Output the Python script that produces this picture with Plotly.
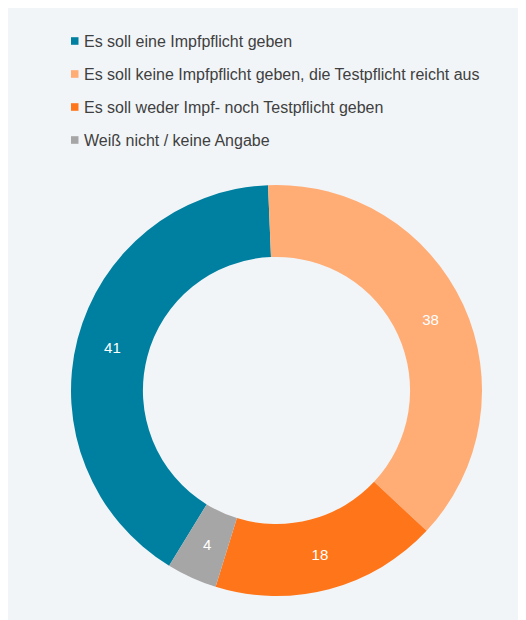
import math
import plotly.graph_objects as go

labels = [
    "Es soll eine Impfpflicht geben",
    "Es soll keine Impfpflicht geben, die Testpflicht reicht aus",
    "Es soll weder Impf- noch Testpflicht geben",
    "Weiß nicht / keine Angabe",
]
values = [41, 38, 18, 4]
colors = ["#0080A0", "#FFAC75", "#FF761A", "#A6A6A6"]

W, H = 526, 620
BG = "#F2F5F8"
FONT = "Liberation Sans, Arial, sans-serif"
OFF = 8  # page body margin

# pie geometry (figure pixels)
cx, cy, R = 276.5 - OFF, 390.5 - OFF, 205.5
HOLE = 0.65
ROT = -148.5

# small slices get their value label placed on the ring middle (like the reference)
small = [v / sum(values) < 0.08 for v in values]
textpos = ["none" if s else "inside" for s in small]

fig = go.Figure()
fig.add_trace(go.Pie(
    labels=labels,
    values=values,
    hole=HOLE,
    sort=False,
    direction="clockwise",
    rotation=ROT,
    marker=dict(colors=colors, line=dict(width=0)),
    texttemplate="%{value}",
    textposition=textpos,
    insidetextorientation="horizontal",
    textfont=dict(color="white", size=15, family=FONT),
    showlegend=False,
    hoverinfo="label+value",
    domain=dict(x=[(cx - R) / W, (cx + R) / W],
                y=[(H - cy - R) / H, (H - cy + R) / H]),
))

shapes = []
annotations = []

# value labels for small slices, positioned from the data (mid-angle, mid-ring)
total = sum(values)
cum = 0
rm = R * (1 + HOLE) / 2
for v, s in zip(values, small):
    mid = math.radians(ROT + (cum + v / 2) / total * 360)
    cum += v
    if not s:
        continue
    px = cx + rm * math.sin(mid)
    py = cy - rm * math.cos(mid)
    annotations.append(dict(text=str(v), xref="paper", yref="paper",
                            x=px / W, y=(H - py) / H,
                            xanchor="center", yanchor="middle", showarrow=False,
                            font=dict(family=FONT, size=15, color="white")))

leg_y = [41, 74, 107, 140]
for lab, col, yy in zip(labels, colors, leg_y):
    yy -= OFF
    shapes.append(dict(type="rect", xref="paper", yref="paper",
                       x0=(71 - OFF) / W, x1=(78.5 - OFF) / W,
                       y0=(H - yy - 3.8) / H, y1=(H - yy + 3.8) / H,
                       fillcolor=col, line=dict(width=0)))
    annotations.append(dict(text=lab, xref="paper", yref="paper",
                            x=(82 - OFF) / W, y=(H - yy) / H,
                            xanchor="left", yanchor="middle", showarrow=False,
                            font=dict(family=FONT, size=16, color="#404040")))

fig.update_layout(
    width=W, height=H,
    margin=dict(l=0, r=0, t=0, b=0),
    paper_bgcolor=BG,
    plot_bgcolor=BG,
    shapes=shapes,
    annotations=annotations,
    font=dict(family=FONT),
)

fig.write_html("out.html")
